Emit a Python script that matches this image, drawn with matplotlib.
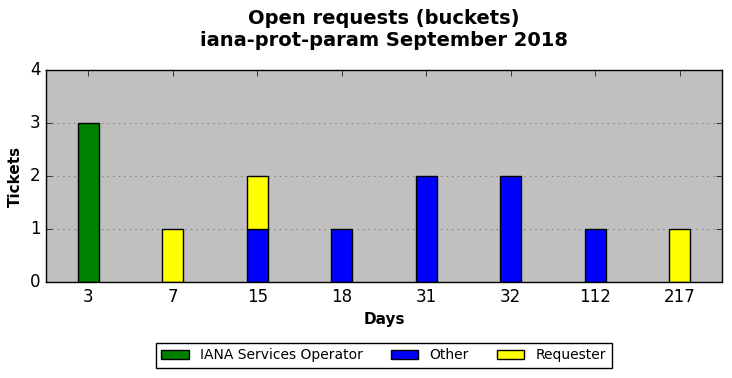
import numpy as np
import matplotlib
matplotlib.use("Agg")
import matplotlib.pyplot as plt

plt.style.use('classic')

days = ["3", "7", "15", "18", "31", "32", "112", "217"]
iana = [3, 0, 0, 0, 0, 0, 0, 0]
other = [0, 0, 1, 1, 2, 2, 1, 0]
requester = [0, 1, 1, 0, 0, 0, 0, 1]

series = [("IANA Services Operator", iana, "green"),
          ("Other", other, "blue"),
          ("Requester", requester, "yellow")]

fig = plt.figure(figsize=(7.32, 3.78), dpi=100, facecolor="white")
ax = fig.add_axes([0.063, 0.254, 0.923, 0.561])
ax.set_facecolor("#c0c0c0")

x = np.arange(len(days))
bottom = np.zeros(len(days))
handles = []
for label, values, color in series:
    values = np.array(values)
    mask = values > 0
    bars = ax.bar(x[mask], values[mask], 0.25, bottom=bottom[mask], color=color,
                  edgecolor="black", linewidth=1, label=label, align="center")
    handles.append(bars)
    bottom = bottom + values

ax.set_xlim(-0.5, len(days) - 0.5)
ax.set_ylim(0, 4)
ax.set_xticks(x)
ax.set_xticklabels(days)
ax.set_yticks([0, 1, 2, 3, 4])
ax.tick_params(labelsize=12)
ax.yaxis.grid(True, linestyle=":", color="#808080", linewidth=0.8)
ax.set_axisbelow(True)

ax.set_xlabel("Days", fontsize=11, fontweight="bold")
ax.set_ylabel("Tickets", fontsize=11, fontweight="bold")
ax.set_title("Open requests (buckets)\niana-prot-param September 2018",
             fontsize=14, fontweight="bold", y=1.078)

fig.legend(handles=handles, loc="center", bbox_to_anchor=(0.524, 0.06), ncol=3,
           fontsize=10, frameon=True, fancybox=False)

fig.savefig("out.png", dpi=100, facecolor="white")
